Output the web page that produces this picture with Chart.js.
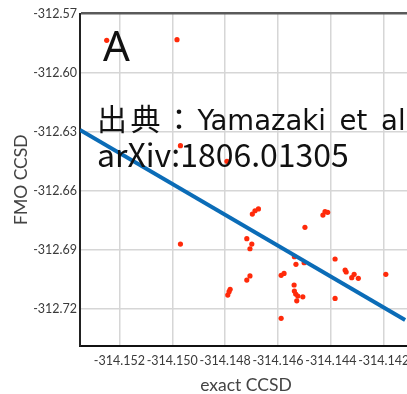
<!DOCTYPE html>
<html>
<head>
<meta charset="utf-8">
<script src="https://cdn.jsdelivr.net/npm/chart.js@4.4.1/dist/chart.umd.min.js"></script>
<style>
    html, body { margin: 0; padding: 0; background: #fff; }
    #wrap { position: relative; width: 407px; height: 394px; overflow: hidden; }
    #wrap canvas { position: absolute; left: 0; top: 0; }
    .note { position: absolute; white-space: nowrap; color: #111; }
    .cjk { font-family: 'Noto Sans CJK JP'; font-size: 30px; line-height: 0; letter-spacing: 3.5px; }
</style>
</head>
<body>
<div id="wrap">
    <canvas id="scatterChart" width="440" height="394" style="width:440px;height:394px"></canvas>
    <div class="note" style="left:103px; top:24px; font: 42px/42px 'Noto Sans'">A</div>
    <div class="note" style="left:97px; top:107px; font: 27.5px/27.5px 'DejaVu Sans'; word-spacing: 5px"><span class="cjk">出典：</span>Yamazaki et al</div>
    <div class="note" style="left:97px; top:137px; font: 32px/32px 'Noto Sans CJK JP'">arXiv:1806.01305</div>
</div>
<script>
// exact CCSD vs FMO CCSD
const exactCCSD = [
    -314.15248, -314.14982, -314.14969, -314.14793, -314.14969,
    -314.14718, -314.14699, -314.14706, -314.14697, -314.14687,
    -314.14674, -314.14718, -314.14706, -314.14790, -314.14785,
    -314.14781, -314.14588, -314.14577, -314.14588, -314.14538,
    -314.14532, -314.14501, -314.14498, -314.14539, -314.14538,
    -314.14533, -314.14529, -314.14525, -314.14506, -314.14430,
    -314.14422, -314.14412, -314.14384, -314.14384, -314.14346,
    -314.14342, -314.14321, -314.14312, -314.14296, -314.14192
];
const fmoCCSD = [
    -312.5835, -312.5832, -312.6370, -312.6449, -312.6869,
    -312.6842, -312.6869, -312.6893, -312.6717, -312.6700,
    -312.6691, -312.7052, -312.7031, -312.7128, -312.7111,
    -312.7099, -312.7028, -312.7018, -312.7246, -312.6933,
    -312.6972, -312.6964, -312.6784, -312.7077, -312.7108,
    -312.7123, -312.7157, -312.7133, -312.7137, -312.6722,
    -312.6705, -312.6708, -312.6945, -312.7145, -312.7001,
    -312.7011, -312.7040, -312.7023, -312.7043, -312.7023
];

// fitted line, two ends
const fitX = [-314.15349, -314.14119];
const fitY = [-312.6290, -312.7255];

const xTicks = [-314.152, -314.150, -314.148, -314.146, -314.144, -314.142];
const yTicks = [-312.57, -312.60, -312.63, -312.66, -312.69, -312.72];

const tickFont = { family: 'Lato', size: 12.5 };
const titleFont = { family: 'Lato', size: 17.5 };

var ctx = document.getElementById('scatterChart').getContext('2d');
new Chart(ctx, {
    type: 'scatter',
    data: {
        datasets: [
            {
                type: 'line',
                label: 'fit',
                data: fitX.map((x, i) => ({ x: x, y: fitY[i] })),
                borderColor: '#0b6cb7',
                borderWidth: 4,
                pointRadius: 0,
                fill: false,
                order: 0
            },
            {
                label: 'FMO vs exact',
                data: exactCCSD.map((x, i) => ({ x: x, y: fmoCCSD[i] })),
                backgroundColor: '#ff2a0a',
                borderWidth: 0,
                pointRadius: 2.6,
                order: 1
            }
        ]
    },
    options: {
        responsive: false,
        animation: false,
        layout: { padding: { top: 13.7, left: 0, right: 28, bottom: 0 } },
        plugins: {
            legend: { display: false },
            tooltip: { enabled: false }
        },
        scales: {
            x: {
                type: 'linear',
                min: -314.15349,
                max: -314.14093,
                afterBuildTicks: axis => { axis.ticks = xTicks.map(v => ({ value: v })); },
                afterFit: axis => { axis.height = 48.3; },
                ticks: {
                    font: tickFont,
                    color: '#3a3a3a',
                    padding: 8,
                    maxRotation: 0,
                    callback: v => v.toFixed(3)
                },
                grid: { color: '#d6d6d6', lineWidth: 1.5, drawTicks: false },
                border: { color: '#111', width: 2 },
                title: {
                    display: true,
                    text: 'exact CCSD',
                    font: Object.assign({ lineHeight: 1 }, titleFont),
                    color: '#444',
                    padding: { top: 0, bottom: 0 }
                }
            },
            y: {
                type: 'linear',
                min: -312.7385,
                max: -312.57,
                afterBuildTicks: axis => { axis.ticks = yTicks.map(v => ({ value: v })); },
                afterFit: axis => { axis.width = 80; },
                ticks: {
                    font: tickFont,
                    color: '#3a3a3a',
                    padding: 3,
                    callback: v => v.toFixed(2)
                },
                grid: {
                    color: c => (c.tick && c.tick.value === -312.57) ? '#5a5a5a' : '#d6d6d6',
                    lineWidth: c => (c.tick && c.tick.value === -312.57) ? 2.5 : 1.5,
                    drawTicks: false
                },
                border: { color: '#222', width: 2 },
                title: {
                    display: true,
                    text: 'FMO CCSD',
                    font: Object.assign({ lineHeight: 1.2 }, titleFont),
                    color: '#444',
                    padding: { top: 11, bottom: 0 }
                }
            }
        }
    }
});
</script>
</body>
</html>
